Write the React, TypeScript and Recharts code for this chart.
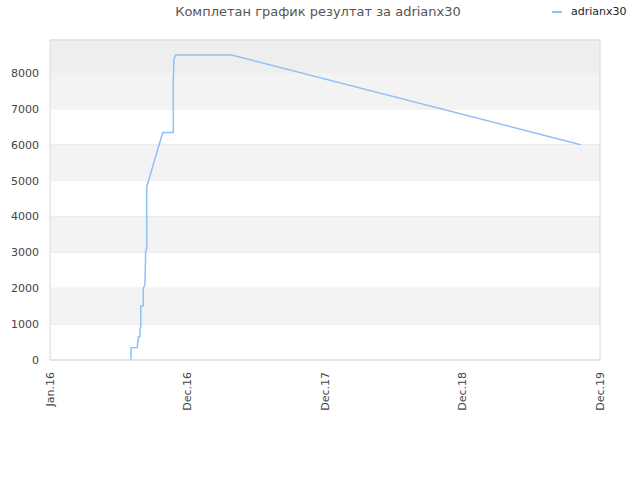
import React from 'react';
import {
  LineChart,
  Line,
  XAxis,
  YAxis,
  CartesianGrid,
  ReferenceArea,
  ReferenceLine,
} from 'recharts';

// months since Jan 2016
const months = [
  7.07, 7.07, 7.62, 7.65, 7.71, 7.71, 7.85, 7.85, 7.92, 7.92, 8.14, 8.14, 8.29, 8.35, 8.44, 8.44,
  9.84, 10.76, 10.76, 10.82, 10.97, 15.86, 46.31,
];
const scores = [
  0, 340, 350, 510, 520, 650, 660, 880, 900, 1500, 1510, 2000, 2090, 3050, 3100, 4830,
  6340, 6340, 7800, 8400, 8500, 8500, 6000,
];

const xTicks = [0, 12, 24, 36, 48];
const xLabels = ['Jan.16', 'Dec.16', 'Dec.17', 'Dec.18', 'Dec.19'];
const yTicks = [0, 1000, 2000, 3000, 4000, 5000, 6000, 7000, 8000];

const seriesName = 'adrianx30';
const title = 'Комплетан график резултат за adrianx30';

const Y_MAX = 8920;
const FONT = '"DejaVu Sans", sans-serif';

const data = months.map((t, i) => ({ t, score: scores[i] }));

const XTick = (props: any) => {
  const { x, y, payload } = props;
  const idx = xTicks.indexOf(payload.value);
  const ty = y + 4;
  return (
    <text
      x={x}
      y={ty}
      transform={`rotate(-90, ${x}, ${ty})`}
      textAnchor="end"
      dy="0.35em"
      fill="#444"
      fontSize={11}
      fontFamily={FONT}
    >
      {xLabels[idx]}
    </text>
  );
};

export default function App() {
  return (
    <div style={{ position: 'absolute', left: 0, top: 0, width: 640, height: 480, background: '#fff' }}>
      <div
        style={{
          position: 'absolute',
          left: 0,
          width: 636,
          top: 4,
          textAlign: 'center',
          fontFamily: FONT,
          fontSize: 13,
          color: '#555',
        }}
      >
        {title}
      </div>
      <div
        style={{
          position: 'absolute',
          left: 552,
          top: 5,
          display: 'flex',
          alignItems: 'center',
          fontFamily: FONT,
          fontSize: 11,
          color: '#222',
        }}
      >
        <span style={{ display: 'inline-block', width: 10, height: 2, background: '#90c0f5', marginRight: 9 }} />
        {seriesName}
      </div>
      <LineChart
        width={640}
        height={480}
        data={data}
        margin={{ top: 40, right: 40, left: 0, bottom: 0 }}
      >
        {[1000, 3000, 5000, 7000].map((v) => (
          <ReferenceArea key={v} y1={v} y2={v + 1000} fill="#f3f3f3" fillOpacity={1} stroke="none" ifOverflow="hidden" />
        ))}
        <ReferenceArea y1={8000} y2={Y_MAX} fill="#eeeeee" fillOpacity={1} stroke="none" />
        <CartesianGrid vertical={false} stroke="#e2e2e2" />
        <XAxis
          type="number"
          dataKey="t"
          domain={[0, 48]}
          ticks={xTicks}
          tick={<XTick />}
          tickLine={false}
          axisLine={{ stroke: '#d8d8d8' }}
          height={120}
          interval={0}
        />
        <YAxis
          type="number"
          domain={[0, Y_MAX]}
          ticks={yTicks}
          tick={{ fill: '#444', fontSize: 11, fontFamily: FONT }}
          tickLine={false}
          tickSize={6}
          tickMargin={5}
          axisLine={{ stroke: '#d8d8d8' }}
          width={50}
          interval={0}
        />
        <ReferenceLine y={Y_MAX} stroke="#d8d8d8" />
        <ReferenceLine x={48} stroke="#d8d8d8" />
        <Line
          type="linear"
          dataKey="score"
          name={seriesName}
          stroke="#90c0f5"
          strokeWidth={1.5}
          dot={false}
          isAnimationActive={false}
        />
      </LineChart>
    </div>
  );
}
